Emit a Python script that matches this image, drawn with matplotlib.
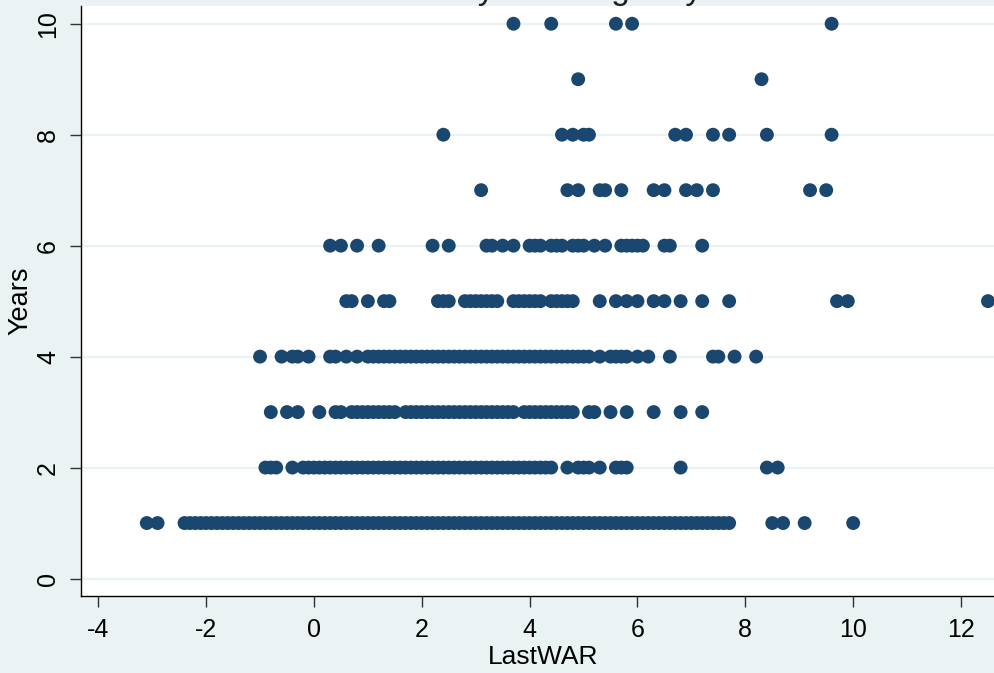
import matplotlib
matplotlib.use("Agg")
import matplotlib.pyplot as plt

# ---- data (LastWAR values for each contract length in Years) ----
war_y1 = [-3.1, -2.9, -2.4, -2.3, -2.2, -2.1, -2.0, -1.9, -1.8, -1.7, -1.6, -1.5, -1.4,
          -1.3, -1.2, -1.1, -1.0, -0.9, -0.8, -0.7, -0.6, -0.5, -0.4, -0.3, -0.2, -0.1,
          0.0, 0.1, 0.2, 0.3, 0.4, 0.5, 0.6, 0.7, 0.8, 0.9, 1.0, 1.1, 1.2, 1.3, 1.4, 1.5,
          1.6, 1.7, 1.8, 1.9, 2.0, 2.1, 2.2, 2.3, 2.4, 2.5, 2.6, 2.7, 2.8, 2.9, 3.0, 3.1,
          3.2, 3.3, 3.4, 3.5, 3.6, 3.7, 3.8, 3.9, 4.0, 4.1, 4.2, 4.3, 4.4, 4.5, 4.6, 4.7,
          4.8, 4.9, 5.0, 5.1, 5.2, 5.3, 5.4, 5.5, 5.6, 5.7, 5.8, 5.9, 6.0, 6.1, 6.2, 6.3,
          6.4, 6.5, 6.6, 6.7, 6.8, 6.9, 7.0, 7.1, 7.2, 7.3, 7.4, 7.5, 7.6, 7.7,
          8.5, 8.7, 9.1, 10.0]
war_y2 = [-0.9, -0.8, -0.7, -0.4, -0.2, -0.1, 0.0, 0.1, 0.2, 0.3, 0.4, 0.5, 0.6, 0.7,
          0.8, 0.9, 1.0, 1.1, 1.2, 1.3, 1.4, 1.5, 1.6, 1.7, 1.8, 1.9, 2.0, 2.1, 2.2, 2.3,
          2.4, 2.5, 2.6, 2.7, 2.8, 2.9, 3.0, 3.1, 3.2, 3.3, 3.4, 3.5, 3.6, 3.7, 3.8, 3.9,
          4.0, 4.1, 4.2, 4.3, 4.4, 4.7, 4.9, 5.0, 5.1, 5.3, 5.6, 5.7, 5.8, 6.8, 8.4, 8.6]
war_y3 = [-0.8, -0.5, -0.3, 0.1, 0.4, 0.5, 0.7, 0.8, 0.9, 1.0, 1.1, 1.2, 1.3, 1.4, 1.5,
          1.7, 1.8, 1.9, 2.0, 2.1, 2.2, 2.3, 2.4, 2.5, 2.6, 2.7, 2.8, 2.9, 3.0, 3.1, 3.2,
          3.3, 3.4, 3.5, 3.6, 3.7, 3.9, 4.0, 4.1, 4.2, 4.3, 4.4, 4.5, 4.6, 4.7, 4.8,
          5.1, 5.2, 5.5, 5.8, 6.3, 6.8, 7.2]
war_y4 = [-1.0, -0.6, -0.4, -0.3, -0.1, 0.3, 0.4, 0.6, 0.8, 1.0, 1.1, 1.2, 1.3, 1.4,
          1.5, 1.6, 1.7, 1.8, 1.9, 2.0, 2.1, 2.2, 2.3, 2.4, 2.5, 2.6, 2.7, 2.8, 2.9, 3.0,
          3.1, 3.2, 3.3, 3.4, 3.5, 3.6, 3.7, 3.8, 3.9, 4.0, 4.1, 4.2, 4.3, 4.4, 4.5, 4.6,
          4.7, 4.8, 4.9, 5.0, 5.1, 5.3, 5.5, 5.6, 5.7, 5.8, 6.0, 6.2, 6.6, 7.4, 7.5, 7.8, 8.2]
war_y5 = [0.6, 0.7, 1.0, 1.3, 1.4, 2.3, 2.4, 2.5, 2.8, 2.9, 3.0, 3.1, 3.2, 3.3, 3.4,
          3.7, 3.8, 3.9, 4.0, 4.1, 4.2, 4.4, 4.5, 4.6, 4.7, 4.8, 5.3, 5.6, 5.8, 6.0,
          6.3, 6.5, 6.8, 7.2, 7.7, 9.7, 9.9, 12.5]
war_y6 = [0.3, 0.5, 0.8, 1.2, 2.2, 2.5, 3.2, 3.3, 3.5, 3.7, 4.0, 4.1, 4.2, 4.4, 4.5,
          4.6, 4.8, 4.9, 5.0, 5.2, 5.4, 5.7, 5.8, 5.9, 6.0, 6.1, 6.5, 6.6, 7.2]
war_y7 = [3.1, 4.7, 4.9, 5.3, 5.4, 5.7, 6.3, 6.5, 6.9, 7.1, 7.4, 9.2, 9.5]
war_y8 = [2.4, 4.6, 4.8, 5.0, 5.1, 6.7, 6.9, 7.4, 7.7, 8.4, 9.6]
war_y9 = [4.9, 8.3]
war_y10 = [3.7, 4.4, 5.6, 5.9, 9.6]

year_levels = [1, 2, 3, 4, 5, 6, 7, 8, 9, 10]
war_by_year = [war_y1, war_y2, war_y3, war_y4, war_y5, war_y6, war_y7, war_y8, war_y9, war_y10]

x_ticks = [-4, -2, 0, 2, 4, 6, 8, 10, 12]
y_ticks = [0, 2, 4, 6, 8, 10]
title_text = "Salary vs. Length by LastWAR"

# ---- styling ----
BG = "#eaf2f3"
NAVY = "#1a476f"
plt.rcParams["font.family"] = ["Liberation Sans", "DejaVu Sans"]

fig = plt.figure(figsize=(9.95, 6.73), dpi=100, facecolor=BG)
ax = fig.add_axes([81 / 995, 77 / 673, 1 - 81 / 995, 590 / 673])
ax.set_facecolor("white")

xs, ys = [], []
for yr, vals in zip(year_levels, war_by_year):
    xs.extend(vals)
    ys.extend([yr] * len(vals))
ax.scatter(xs, ys, s=100, color=NAVY, edgecolors="none", zorder=3)

ax.set_xlim(-4.32, 12.63)
ax.set_ylim(-0.315, 10.32)
ax.set_xticks(x_ticks)
ax.set_yticks(y_ticks)
ax.set_xticklabels([str(t) for t in x_ticks], fontsize=18)
ax.set_yticklabels([str(t) for t in y_ticks], fontsize=18, rotation=90, va="center")

for yv in y_ticks:
    ax.axhline(yv, color=BG, linewidth=1.6, zorder=1)

ax.tick_params(axis="both", direction="out", length=8, width=1, color="#333333")
ax.tick_params(axis="x", pad=8)
ax.tick_params(axis="y", pad=7)

for side in ["top", "right"]:
    ax.spines[side].set_visible(False)
for side in ["left", "bottom"]:
    ax.spines[side].set_color("#000000")
    ax.spines[side].set_linewidth(1.0)

ax.set_xlabel("LastWAR", fontsize=19)
ax.xaxis.set_label_coords(0.506, -0.083)
ax.set_ylabel("Years", fontsize=19.5)
ax.yaxis.set_label_coords(-0.052, 0.5)

fig.text(400 / 995, 1 + 1 / 673, title_text, fontsize=24, ha="left", va="baseline",
         color="#1e1e1e")

fig.savefig("out.png", dpi=100, facecolor=BG)
